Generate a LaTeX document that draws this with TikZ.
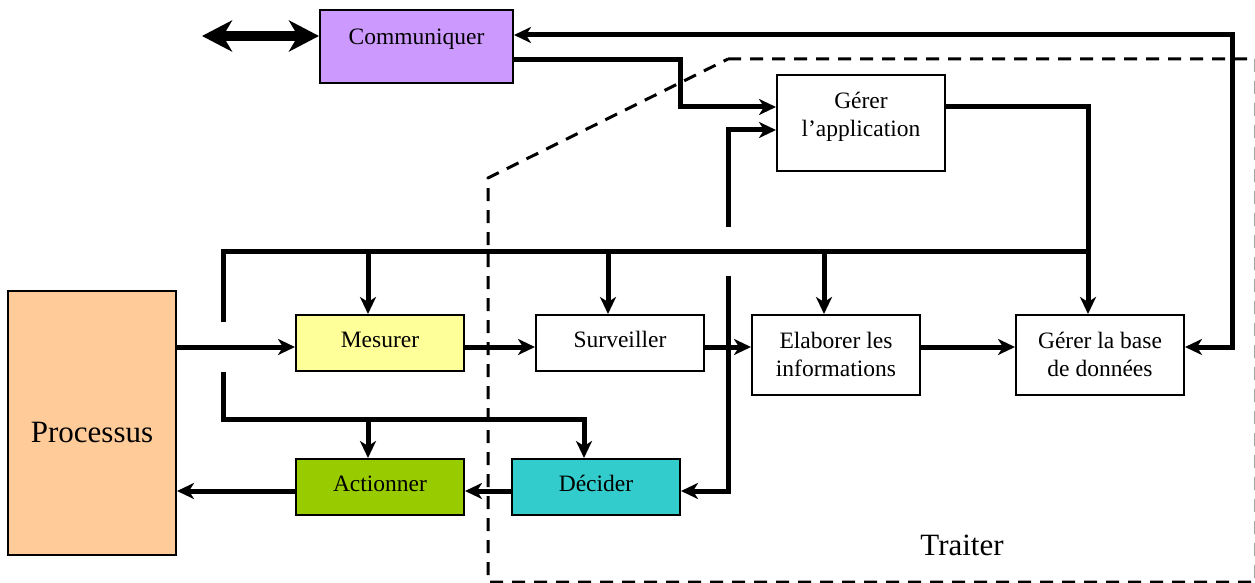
\documentclass[tikz,border=0pt]{standalone}
\usepackage{fontspec}
\setmainfont{Liberation Serif}
\usetikzlibrary{positioning, arrows.meta}

\definecolor{commviolet}{HTML}{CC99FF}
\definecolor{procpeach}{HTML}{FFCC99}
\definecolor{mesyellow}{HTML}{FFFF99}
\definecolor{actgreen}{HTML}{99CC00}
\definecolor{deccyan}{HTML}{33CCCC}

\begin{document}
\begin{tikzpicture}[
  x=1pt, y=-1pt,
  box/.style={rectangle, draw=black, line width=2pt, inner sep=0pt, minimum width=168pt, minimum height=56pt, align=center, font=\fontsize{23.5pt}{28pt}\selectfont, text height=16pt, text depth=8pt},
  box2/.style={box, minimum height=80pt, text height=44pt, text depth=2pt},
  big/.style={font=\fontsize{31pt}{36pt}\selectfont},
  bus/.style={line width=5pt},
  flow/.style={bus, -{Stealth[length=17pt, width=16pt, inset=5pt]}},
  dflow/.style={bus, {Stealth[length=17pt, width=16pt, inset=5pt]}-{Stealth[length=17pt, width=16pt, inset=5pt]}},
  extflow/.style={line width=10pt, {Stealth[length=30pt, width=31pt, inset=9pt]}-{Stealth[length=30pt, width=31pt, inset=9pt]}},
  zone/.style={line width=3pt, dash pattern=on 13pt off 9pt}
]
\useasboundingbox (0,0) rectangle (1255,583);

% ======================
% BOXES
% ======================
\node[box, fill=commviolet, minimum width=193pt, minimum height=73pt, text depth=19pt, anchor=north west] (comm) at (319,9) {Communiquer};

\node[box, minimum height=96pt, text height=44pt, text depth=18pt, anchor=north west] (gerer_app) at (776,74) {G\'erer\\l'application};

\node[box, big, fill=procpeach, minimum height=264pt, text height=38pt, text depth=0pt, anchor=north west] (processus) at (7,290) {Processus};

\node[box, fill=mesyellow, anchor=north west] (mesurer) at (295,314) {Mesurer};
\node[box, right=70pt of mesurer] (surveiller) {Surveiller};
\node[box2, right=46pt of surveiller.north east, anchor=north west] (elaborer) {Elaborer les\\informations};
\node[box2, right=94pt of elaborer] (gerer_bdd) {G\'erer la base\\de donn\'ees};

\node[box, fill=actgreen, below=86pt of mesurer] (actionner) {Actionner};
\node[box, fill=deccyan, right=46pt of actionner] (decider) {D\'ecider};

\node[big] (traiter) at (962,545) {Traiter};

% ======================
% TRAITER ZONE
% ======================
\draw[zone] (728,59) -- (1256,59) -- (1256,582) -- (488,582) -- (488,178) -- cycle;

% ======================
% CONNECTIONS
% ======================
\coordinate (row_in) at (0,347);
\coordinate (row_out) at (0,491);
\coordinate (ext) at (202,36);
\coordinate (app_in) at (728,227);
\coordinate (dec_in) at (728,276);
\coordinate (bus_in) at (223,322);
\coordinate (act_in) at (223,372);

\draw[extflow] (ext) -- (comm.west |- ext);
\draw[dflow] (comm.east |- 0,35) -| (1232,347) -- (gerer_bdd.east |- row_in);

\draw[flow] (comm.east |- 0,60) -| (680,107) -- (gerer_app.west |- 0,107);
\draw[flow] (app_in) |- (gerer_app.west |- 0,130);
\draw[flow] (gerer_app.east |- 0,107) -| ([xshift=-12pt]gerer_bdd.north);

% bus du haut
\draw[bus] (bus_in) |- ([xshift=-12pt]gerer_bdd.north |- 0,251);
\foreach \n in {mesurer, surveiller, elaborer}
  \draw[flow] ([xshift=-12pt]\n.north |- 0,251) -- ([xshift=-12pt]\n.north);

% bus du bas
\draw[flow] (act_in) |- ([xshift=-12pt]decider.north |- 0,419) -- ([xshift=-12pt]decider.north);
\draw[flow] ([xshift=-12pt]actionner.north |- 0,419) -- ([xshift=-12pt]actionner.north);

\draw[flow] (processus.east |- row_in) -- (mesurer.west |- row_in);
\draw[flow] (mesurer.east |- row_in) -- (surveiller.west |- row_in);
\draw[flow] (surveiller.east |- row_in) -- (elaborer.west |- row_in);
\draw[flow] (elaborer.east |- row_in) -- (gerer_bdd.west |- row_in);

\draw[flow] (dec_in) |- (decider.east |- row_out);
\draw[flow] (decider.west |- row_out) -- (actionner.east |- row_out);
\draw[flow] (actionner.west |- row_out) -- (processus.east |- row_out);

\end{tikzpicture}
\end{document}
